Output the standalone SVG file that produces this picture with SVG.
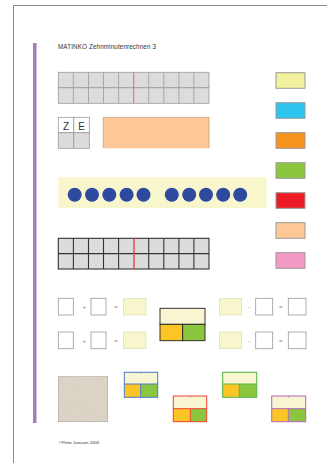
<svg xmlns="http://www.w3.org/2000/svg" width="327" height="463" viewBox="0 0 327 463">
<style>
text{font-family:"Liberation Sans",Arial,sans-serif;fill:#333}
.cell{fill:#dcdcdc;stroke:#9a9a9a;stroke-width:0.8}
.cell2{fill:#dcdcdc;stroke:#333;stroke-width:1.1}
.sw{stroke:#9a9a9a;stroke-width:1}
.box{fill:#fff;stroke:#999;stroke-width:0.8}
.ybox{fill:#f8f6cc;stroke:#ddd9a8;stroke-width:0.6}
.op{font-size:6px;fill:#888}
.dot{fill:#2e4a9e}
.cy{fill:#f7f5d2}
.co{fill:#fcc526}
.cg{fill:#8cc63f}
</style>
<rect width="327" height="463" fill="#fff"/>
<g id="page">
<path d="M13.5,463 V5.5 H327" fill="none" stroke="#8a8a8a" stroke-width="1"/>
<rect x="33" y="43" width="3.5" height="380" fill="#a57cbd"/>
<text x="58" y="49" font-size="6.3" textLength="98">MATINKO Zehnminutenrechnen 3</text>
</g>
<g id="grid1">
<g class="cell">
<rect x="58.3" y="72.3" width="150.7" height="15.5"/><rect x="58.3" y="87.8" width="150.7" height="15.5"/>
</g>
<g stroke="#9a9a9a" stroke-width="0.8">
<line x1="73.4" y1="72.3" x2="73.4" y2="103.3"/><line x1="88.5" y1="72.3" x2="88.5" y2="103.3"/><line x1="103.5" y1="72.3" x2="103.5" y2="103.3"/><line x1="118.6" y1="72.3" x2="118.6" y2="103.3"/><line x1="148.7" y1="72.3" x2="148.7" y2="103.3"/><line x1="163.8" y1="72.3" x2="163.8" y2="103.3"/><line x1="178.9" y1="72.3" x2="178.9" y2="103.3"/><line x1="193.9" y1="72.3" x2="193.9" y2="103.3"/>
</g>
<line x1="133.7" y1="72.3" x2="133.7" y2="103.3" stroke="#e0605a" stroke-width="0.9"/>
</g>
<g id="legend">
<rect class="sw" x="276" y="72.7" width="29" height="15.6" fill="#f3f09e"/>
<rect class="sw" x="276" y="102.7" width="29" height="15.6" fill="#2ec4f0"/>
<rect class="sw" x="276" y="132.7" width="29" height="15.6" fill="#f7941d"/>
<rect class="sw" x="276" y="162.7" width="29" height="15.6" fill="#8cc63f"/>
<rect class="sw" x="276" y="192.7" width="29" height="15.6" fill="#ed1c24"/>
<rect class="sw" x="276" y="222.7" width="29" height="15.6" fill="#fdc895"/>
<rect class="sw" x="276" y="252.7" width="29" height="15.6" fill="#f39ac4"/>
</g>
<g id="ze">
<rect x="58.3" y="117.3" width="15.5" height="15.5" fill="#fff" stroke="#9a9a9a" stroke-width="0.8"/>
<rect x="73.8" y="117.3" width="15.5" height="15.5" fill="#fff" stroke="#9a9a9a" stroke-width="0.8"/>
<rect class="cell" x="58.3" y="132.8" width="15.5" height="15.5"/>
<rect class="cell" x="73.8" y="132.8" width="15.5" height="15.5"/>
<text x="66" y="129.5" font-size="10" text-anchor="middle" fill="#111">Z</text>
<text x="81.5" y="129.5" font-size="10" text-anchor="middle" fill="#111">E</text>
</g>
<g id="peach">
<rect x="103.3" y="117.3" width="105.7" height="31" fill="#fdc896"/>
<path d="M103.3,148.3 V117.3 H209 V148.3" fill="none" stroke="#b89a80" stroke-width="0.7"/>
</g>
<g id="dots">
<rect x="58.3" y="177.3" width="208.4" height="31" fill="#f8f6cc"/>
<circle class="dot" cx="74.7" cy="194.7" r="7"/><circle class="dot" cx="92" cy="194.7" r="7"/><circle class="dot" cx="109.3" cy="194.7" r="7"/><circle class="dot" cx="126.6" cy="194.7" r="7"/><circle class="dot" cx="143.5" cy="194.7" r="7"/>
<circle class="dot" cx="171.8" cy="194.7" r="7"/><circle class="dot" cx="189.2" cy="194.7" r="7"/><circle class="dot" cx="206" cy="194.7" r="7"/><circle class="dot" cx="223.2" cy="194.7" r="7"/><circle class="dot" cx="240.2" cy="194.7" r="7"/>
</g>
<g id="grid2">
<rect class="cell2" x="58.3" y="238.3" width="150.7" height="30.7"/>
<g stroke="#333" stroke-width="1.1">
<line x1="58.3" y1="253.6" x2="209" y2="253.6"/>
<line x1="73.4" y1="238.3" x2="73.4" y2="269"/><line x1="88.5" y1="238.3" x2="88.5" y2="269"/><line x1="103.5" y1="238.3" x2="103.5" y2="269"/><line x1="118.6" y1="238.3" x2="118.6" y2="269"/><line x1="148.7" y1="238.3" x2="148.7" y2="269"/><line x1="163.8" y1="238.3" x2="163.8" y2="269"/><line x1="178.9" y1="238.3" x2="178.9" y2="269"/><line x1="193.9" y1="238.3" x2="193.9" y2="269"/>
</g>
<line x1="134" y1="238.3" x2="134" y2="269" stroke="#e8413a" stroke-width="1.4"/>
</g>
<g id="eq-left">
<rect class="box" x="58.3" y="298.3" width="15" height="16.7"/><text class="op" x="84.3" y="309" text-anchor="middle">+</text>
<rect class="box" x="91" y="298.3" width="15" height="16.7"/><text class="op" x="116" y="309" text-anchor="middle">=</text>
<rect class="ybox" x="123.3" y="298.3" width="22.7" height="16.7"/>
<rect class="box" x="58.3" y="332" width="15" height="16.7"/><text class="op" x="84.3" y="342.7" text-anchor="middle">+</text>
<rect class="box" x="91" y="332" width="15" height="16.7"/><text class="op" x="116" y="342.7" text-anchor="middle">=</text>
<rect class="ybox" x="123.3" y="332" width="22.7" height="16.7"/>
</g>
<g id="center-card">
<rect x="160" y="308.3" width="45" height="16" fill="#f7f5d2" stroke="#222" stroke-width="0.9"/>
<rect x="160" y="324.3" width="22.7" height="16.4" fill="#fcc526" stroke="#222" stroke-width="0.9"/>
<rect x="182.7" y="324.3" width="22.3" height="16.4" fill="#8cc63f" stroke="#222" stroke-width="0.9"/>
</g>
<g id="eq-right">
<rect class="ybox" x="219.3" y="298.3" width="22.4" height="16.7"/><text class="op" x="249" y="309" text-anchor="middle">-</text>
<rect class="box" x="255.7" y="298.3" width="17" height="16.7"/><text class="op" x="280.7" y="309" text-anchor="middle">=</text>
<rect class="box" x="288.3" y="298.3" width="17.7" height="16.7"/>
<rect class="ybox" x="219.3" y="332" width="22.4" height="16.7"/><text class="op" x="249" y="342.7" text-anchor="middle">-</text>
<rect class="box" x="255.7" y="332" width="17" height="16.7"/><text class="op" x="280.7" y="342.7" text-anchor="middle">=</text>
<rect class="box" x="288.3" y="332" width="17.7" height="16.7"/>
</g>
<g id="texture">
<defs>
<filter id="speck" x="0" y="0" width="1" height="1">
<feTurbulence type="fractalNoise" baseFrequency="0.9" numOctaves="2" seed="3" result="n"/>
<feColorMatrix in="n" type="matrix" values="0 0 0 0 0.55  0 0 0 0 0.5  0 0 0 0 0.45  0 0 0 1.4 -0.75" result="s"/>
<feComposite in="s" in2="SourceGraphic" operator="atop"/>
</filter>
</defs>
<rect x="58.3" y="376" width="49.4" height="45.7" fill="#dcd4c7" stroke="#a8a39c" stroke-width="0.7" filter="url(#speck)"/>
</g>
<g id="card-blue">
<rect x="124.3" y="372.3" width="33.4" height="11.7" class="cy"/>
<rect x="124.3" y="384" width="16.4" height="13.3" class="co"/>
<rect x="140.7" y="384" width="17" height="13.3" class="cg"/>
<g fill="none" stroke="#4a78c8" stroke-width="1"><rect x="124.3" y="372.3" width="33.4" height="25"/><path d="M124.3,384 H157.7 M140.7,384 V397.3"/></g>
<line x1="141" y1="372.3" x2="141" y2="374" stroke="#777" stroke-width="0.5"/>
</g>
<g id="card-red">
<rect x="173.3" y="396" width="33.4" height="12.7" class="cy"/>
<rect x="173.3" y="408.7" width="17" height="13" class="co"/>
<rect x="190.3" y="408.7" width="16.4" height="13" class="cg"/>
<g fill="none" stroke="#ee4035" stroke-width="1"><rect x="173.3" y="396" width="33.4" height="25.7"/><path d="M173.3,408.7 H206.7 M190.3,408.7 V421.7"/></g>
<line x1="190" y1="396" x2="190" y2="397.7" stroke="#777" stroke-width="0.5"/>
</g>
<g id="card-green">
<rect x="222.7" y="372.3" width="34" height="11.7" class="cy"/>
<rect x="222.7" y="384" width="16.6" height="13.3" class="co"/>
<rect x="239.3" y="384" width="17.4" height="13.3" class="cg"/>
<g fill="none" stroke="#5cb848" stroke-width="1.1"><rect x="222.7" y="372.3" width="34" height="25"/><path d="M222.7,384 H256.7 M239.3,384 V397.3"/></g>
</g>
<g id="card-purple">
<rect x="271.7" y="396" width="34" height="12.7" class="cy"/>
<rect x="271.7" y="408.7" width="16.6" height="13" class="co"/>
<rect x="288.3" y="408.7" width="17.4" height="13" class="cg"/>
<g fill="none" stroke="#b366b8" stroke-width="1"><rect x="271.7" y="396" width="34" height="25.7"/><path d="M271.7,408.7 H305.7 M288.3,408.7 V421.7"/></g>
<line x1="288.5" y1="396" x2="288.5" y2="397.7" stroke="#777" stroke-width="0.5"/>
</g>
<g id="footer">
<text x="59" y="444" font-size="4.2" fill="#777" textLength="40">©Peter Janssen 2006</text>
</g>
</svg>
